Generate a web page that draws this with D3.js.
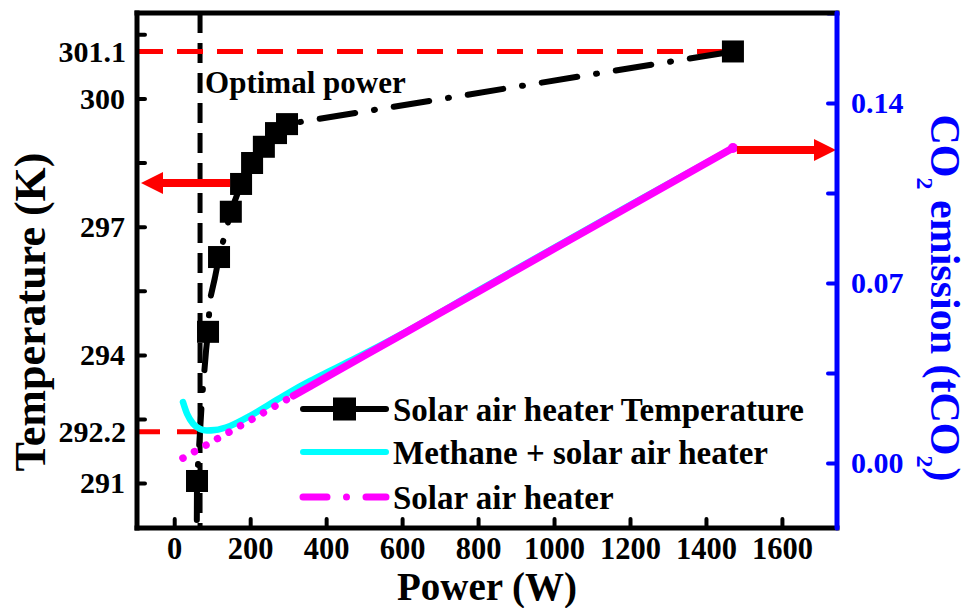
<!DOCTYPE html>
<html>
<head>
<meta charset="utf-8">
<script src="https://cdn.jsdelivr.net/npm/d3@7"></script>
<style>
  html, body { margin: 0; padding: 0; background: #fff; }
  svg { display: block; }
  svg text { font-family: "Liberation Serif", "Times New Roman", serif; font-weight: bold; }
</style>
</head>
<body>
<svg id="chart" width="971" height="608"></svg>
<script>
// ---- axis ranges and ticks ----
const powerRange = [-98, 1745];
const tempRange = [289.95, 302];
const co2Range = [-0.0253, 0.175];
const powerTicks = [0, 200, 400, 600, 800, 1000, 1200, 1400, 1600];
const tempTicks = [291, 294, 297, 300];
const tempMinorTicks = [292.5, 295.5, 298.5, 301.5];
const tempMarkLabels = [301.1, 292.2];
const co2Ticks = [0, 0.07, 0.14];
const co2MinorTicks = [0.035, 0.105, 0.175];

// ---- solar air heater temperature (markers) ----
const heaterPower = [60, 89, 118, 149, 176, 205, 236, 268, 297, 1471];
const heaterTemp = [291.05, 294.54, 296.29, 297.35, 298.0, 298.49, 298.87, 299.19, 299.4, 301.1];

// ---- fitted temperature curve (dash-dot) ----
const fitPower = [59.5, 60, 73, 84, 89, 94, 107, 118, 149, 176, 205, 236, 268, 297, 1471];
const fitTemp = [290.14, 291.05, 292.95, 294.12, 294.54, 295.29, 295.8, 296.29, 297.35, 298.0, 298.49, 298.87, 299.19, 299.4, 301.1];

// ---- CO2 emission, methane + solar air heater ----
const methanePower = [23, 34, 50, 68, 86, 107, 147, 200, 252, 305, 358, 410, 489, 595, 800, 1000, 1200, 1471];
const methaneCO2 = [0.0237, 0.0190, 0.0152, 0.0132, 0.0126, 0.0128, 0.0144, 0.0183, 0.0229, 0.0276, 0.0319, 0.0358, 0.0416, 0.0498, 0.0670, 0.0837, 0.1003, 0.1225];

// ---- CO2 emission, solar air heater ----
const solarPower = [23, 100, 200, 300, 400, 600, 800, 1000, 1200, 1471];
const solarCO2 = [0.0019, 0.0083, 0.0166, 0.0250, 0.0333, 0.0500, 0.0666, 0.0833, 0.0999, 0.1225];

// ---- annotations ----
const optimalPower = 68;
const legendLabels = ["Solar air heater Temperature", "Methane + solar air heater", "Solar air heater"];

const BLACK = "#000", CYAN = "#00FFFF", MAGENTA = "#FF00FF", RED = "#FF0000", BLUE = "#0000FF";
const SERIF = "'Liberation Serif', 'Times New Roman', serif";

const svg = d3.select("#chart");
const plot = { left: 137, right: 837, top: 13, bottom: 528 };

const x = d3.scaleLinear().domain(powerRange).range([plot.left, plot.right]);
const yT = d3.scaleLinear().domain(tempRange).range([plot.bottom, plot.top]);
const yC = d3.scaleLinear().domain(co2Range).range([plot.bottom, plot.top]);

const zip = (a, b) => a.map((v, i) => [v, b[i]]);

// ---- reference lines ----
const refs = svg.append("g").attr("fill", "none").attr("stroke-width", 5);
refs.append("line")
  .attr("x1", x(optimalPower)).attr("x2", x(optimalPower))
  .attr("y1", plot.top).attr("y2", plot.bottom)
  .attr("stroke", BLACK).attr("stroke-dasharray", "20 10");
refs.append("line")
  .attr("x1", plot.left).attr("x2", x(heaterPower[heaterPower.length - 1]) - 11)
  .attr("y1", yT(tempMarkLabels[0])).attr("y2", yT(tempMarkLabels[0]))
  .attr("stroke", RED).attr("stroke-dasharray", "26 14");
refs.append("line")
  .attr("x1", plot.left).attr("x2", x(optimalPower) + 2)
  .attr("y1", yT(tempMarkLabels[1])).attr("y2", yT(tempMarkLabels[1]))
  .attr("stroke", RED).attr("stroke-dasharray", "23 17");

// ---- temperature curve ----
const tempLine = d3.line().x(d => x(d[0])).y(d => yT(d[1]));
svg.append("path")
  .datum(zip(fitPower, fitTemp))
  .attr("d", tempLine)
  .attr("fill", "none").attr("stroke", BLACK).attr("stroke-width", 6)
  .attr("stroke-linecap", "round").attr("stroke-linejoin", "round")
  .attr("stroke-dasharray", "36 19 1 19");

// ---- CO2 curves ----
const co2Line = d3.line().x(d => x(d[0])).y(d => yC(d[1])).curve(d3.curveMonotoneX);
svg.append("path")
  .datum(zip(methanePower, methaneCO2))
  .attr("d", co2Line)
  .attr("fill", "none").attr("stroke", CYAN).attr("stroke-width", 6.5)
  .attr("stroke-linecap", "round").attr("stroke-linejoin", "round");

const solarPath = svg.append("path")
  .datum(zip(solarPower, solarCO2))
  .attr("d", co2Line)
  .attr("fill", "none").attr("stroke", MAGENTA).attr("stroke-width", 7.5)
  .attr("stroke-linecap", "round").attr("stroke-linejoin", "round");
// dotted start, solid afterwards
const dotPattern = [];
for (let i = 0; i < 10; i++) dotPattern.push(0.001, i < 9 ? 13.2 : 8);
dotPattern.push(5000, 0);
solarPath.attr("stroke-dasharray", dotPattern.join(" "));
svg.append("circle")
  .attr("cx", x(solarPower[solarPower.length - 1]))
  .attr("cy", yC(solarCO2[solarCO2.length - 1]))
  .attr("r", 5).attr("fill", MAGENTA);

// ---- temperature markers ----
svg.append("g").selectAll("rect")
  .data(zip(heaterPower, heaterTemp))
  .join("rect")
  .attr("x", d => x(d[0]) - 11).attr("y", d => yT(d[1]) - 11)
  .attr("width", 22).attr("height", 22).attr("fill", BLACK);

// ---- arrows ----
function arrow(x0, x1, y, color) {
  // shaft from x0 to the head, head tip at x1
  const dir = Math.sign(x1 - x0), headLen = 22, half = 11, sw = 4;
  const xb = x1 - dir * headLen;
  const pts = [[x0, y - sw], [xb, y - sw], [xb, y - half], [x1, y], [xb, y + half], [xb, y + sw], [x0, y + sw]];
  svg.append("path").attr("d", d3.line()(pts) + "Z").attr("fill", color);
}
arrow(x(heaterPower[4]) - 11, plot.left + 4, yT(heaterTemp[4]) - 1, RED);
arrow(x(solarPower[solarPower.length - 1]) + 4, plot.right - 1, yC(solarCO2[solarCO2.length - 1]) + 2, RED);

// ---- axes ----
const styleTicks = (g, color, size) => {
  g.attr("font-family", SERIF).attr("font-size", size || 30);
  g.select(".domain").remove();
  g.selectAll(".tick line").attr("stroke", color).attr("stroke-width", 4).attr("stroke-linecap", "round");
  g.selectAll(".tick text").attr("fill", color)
    .attr("font-family", SERIF).attr("font-weight", "bold").attr("font-size", size || 30);
};

svg.append("g").attr("transform", `translate(0,${plot.bottom})`)
  .call(d3.axisBottom(x).tickValues(powerTicks).tickSize(-9).tickPadding(9).tickFormat(d3.format("d")))
  .call(g => styleTicks(g, BLACK, 30.5));

svg.append("g").attr("transform", `translate(${plot.left},0)`)
  .call(d3.axisLeft(yT).tickValues(tempTicks).tickSize(-8).tickPadding(12).tickFormat(d3.format("d")))
  .call(g => styleTicks(g, BLACK, 30));
svg.append("g").attr("transform", `translate(${plot.left},0)`)
  .call(d3.axisLeft(yT).tickValues(tempMinorTicks).tickSize(-8).tickFormat(""))
  .call(g => styleTicks(g, BLACK, 30));
svg.append("g").attr("transform", `translate(${plot.left},0)`)
  .call(d3.axisLeft(yT).tickValues(tempMarkLabels).tickSize(0).tickPadding(11).tickFormat(d3.format(".1f")))
  .call(g => styleTicks(g, BLACK, 30));

svg.append("g").attr("transform", `translate(${plot.right},0)`)
  .call(d3.axisRight(yC).tickValues(co2Ticks).tickSize(-9).tickPadding(14).tickFormat(d3.format(".2f")))
  .call(g => styleTicks(g, BLUE, 30));
svg.append("g").attr("transform", `translate(${plot.right},0)`)
  .call(d3.axisRight(yC).tickValues(co2MinorTicks).tickSize(-9).tickFormat(""))
  .call(g => styleTicks(g, BLUE, 30));

// ---- frame ----
const frame = svg.append("g").attr("stroke-width", 5).attr("stroke-linecap", "square");
frame.append("line").attr("x1", plot.left).attr("x2", plot.right).attr("y1", plot.top).attr("y2", plot.top).attr("stroke", BLACK);
frame.append("line").attr("x1", plot.left).attr("x2", plot.right).attr("y1", plot.bottom).attr("y2", plot.bottom).attr("stroke", BLACK);
frame.append("line").attr("x1", plot.left).attr("x2", plot.left).attr("y1", plot.top).attr("y2", plot.bottom).attr("stroke", BLACK);
frame.append("line").attr("x1", plot.right).attr("x2", plot.right).attr("y1", plot.top).attr("y2", plot.bottom)
  .attr("stroke", BLUE).attr("stroke-linecap", "round");

// ---- titles ----
svg.append("text")
  .attr("x", (plot.left + plot.right) / 2).attr("y", 599.5)
  .attr("text-anchor", "middle").attr("font-size", 39)
  .text("Power (W)");

svg.append("text")
  .attr("transform", `translate(45,312) rotate(-90)`)
  .attr("text-anchor", "middle").attr("font-size", 44)
  .text("Temperature (K)");

const co2Title = svg.append("text")
  .attr("transform", `translate(931,298) rotate(90)`)
  .attr("text-anchor", "middle").attr("font-size", 42).attr("fill", BLUE);
co2Title.append("tspan").text("CO");
co2Title.append("tspan").attr("font-size", 24).attr("dy", 14).text("2");
co2Title.append("tspan").attr("dy", -14).text(" emission (tCO");
co2Title.append("tspan").attr("font-size", 24).attr("dy", 14).text("2");
co2Title.append("tspan").attr("dy", -14).text(")");

svg.append("text")
  .attr("x", x(optimalPower) + 5).attr("y", 93)
  .attr("font-size", 31)
  .text("Optimal power");

// ---- legend ----
const legend = svg.append("g");
const rowY = [409, 452, 497];
const lx0 = 303, lx1 = 386, lxm = (lx0 + lx1) / 2;
legend.append("line").attr("x1", lx0).attr("x2", lx1).attr("y1", rowY[0]).attr("y2", rowY[0])
  .attr("stroke", BLACK).attr("stroke-width", 6).attr("stroke-linecap", "round");
legend.append("rect").attr("x", lxm - 11.5).attr("y", rowY[0] - 11.5).attr("width", 23).attr("height", 23).attr("fill", BLACK);
legend.append("line").attr("x1", lx0).attr("x2", lx1).attr("y1", rowY[1]).attr("y2", rowY[1])
  .attr("stroke", CYAN).attr("stroke-width", 6).attr("stroke-linecap", "round");
legend.append("line").attr("x1", lx0).attr("x2", lx1).attr("y1", rowY[2]).attr("y2", rowY[2])
  .attr("stroke", MAGENTA).attr("stroke-width", 7).attr("stroke-linecap", "round")
  .attr("stroke-dasharray", "24 19.5 0.001 19.5 30");
legend.selectAll("text").data(legendLabels).join("text")
  .attr("x", 393).attr("y", (d, i) => rowY[i] + 12)
  .attr("font-size", 33)
  .text(d => d);
</script>
</body>
</html>
